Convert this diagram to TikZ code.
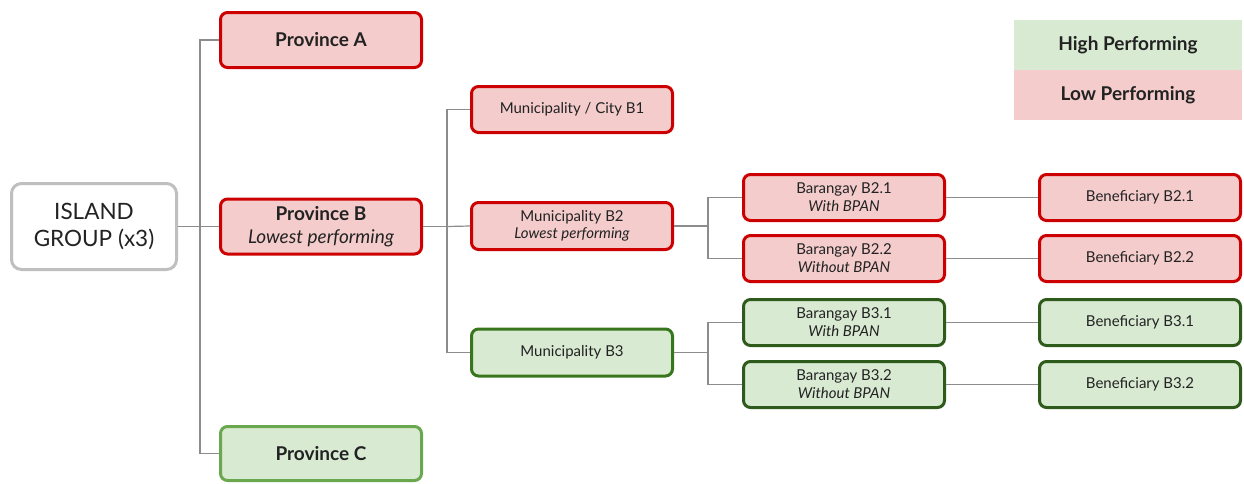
\documentclass[tikz,border=0pt]{standalone}
\usepackage{fontspec}
\setmainfont{Lato}
\usetikzlibrary{positioning}
\definecolor{LowFill}{HTML}{F4CCCC}
\definecolor{LowEdge}{HTML}{CC0000}
\definecolor{HighFill}{HTML}{D9EAD3}
\definecolor{HighEdge}{HTML}{38761D}
\definecolor{HighEdgeDark}{HTML}{2E5A1C}
\definecolor{HighEdgeLight}{HTML}{6AA84F}
\definecolor{IslandEdge}{HTML}{BFBFBF}
\definecolor{LinkGray}{HTML}{8C8C8C}
\definecolor{TextDark}{HTML}{222222}

\tikzset{
  box/.style={rounded corners=7pt,line width=3pt,minimum width=201pt,align=center,inner sep=0pt,text=TextDark},
  lowbox/.style={box,draw=LowEdge,fill=LowFill},
  highbox/.style={box,draw=HighEdgeDark,fill=HighFill},
  provfont/.style={font=\fontsize{19}{23}\selectfont\bfseries},
  smallfont/.style={font=\fontsize{15}{18}\selectfont},
  link/.style={draw=LinkGray,line width=1.2pt},
}

\begin{document}
\begin{tikzpicture}[x=1pt,y=-1pt]
  \useasboundingbox (0,0) rectangle (1244,483);

  % root
  \node[box,draw=IslandEdge,fill=white,minimum width=165pt,minimum height=86pt,
    rounded corners=10pt,font=\fontsize{22.5}{27}\selectfont] (island) at (94,226.5)
    {ISLAND\\GROUP (x3)};

  % provinces
  \node[lowbox,provfont,minimum height=55pt] (provA) at (321,40) {Province A};
  \node[lowbox,provfont,minimum height=55pt] (provB) at (321,226.5)
    {Province B\\\mdseries\itshape Lowest performing};
  \node[box,draw=HighEdgeLight,fill=HighFill,provfont,minimum height=54pt] (provC) at (321,453.5) {Province C};

  % municipalities
  \node[lowbox,smallfont,minimum height=46pt] (munB1) at (572,109.5) {Municipality / City B1};
  \node[lowbox,smallfont,minimum height=47pt,font=\fontsize{15}{17}\selectfont] (munB2) at (572,226)
    {Municipality B2\\\itshape Lowest performing};
  \node[box,draw=HighEdge,fill=HighFill,smallfont,minimum height=47pt] (munB3) at (572,352.5) {Municipality B3};

  % barangays
  \node[lowbox,smallfont,minimum height=46pt] (barB21) at (844,197.5) {Barangay B2.1\\\itshape With BPAN};
  \node[lowbox,smallfont,minimum height=46pt] (barB22) at (844,258.5) {Barangay B2.2\\\itshape Without BPAN};
  \node[highbox,smallfont,minimum height=46pt] (barB31) at (844,322.5) {Barangay B3.1\\\itshape With BPAN};
  \node[highbox,smallfont,minimum height=46pt] (barB32) at (844,384.5) {Barangay B3.2\\\itshape Without BPAN};

  % beneficiaries
  \node[lowbox,smallfont,minimum height=46pt] (benB21) at (1140,197.5) {Beneficiary B2.1};
  \node[lowbox,smallfont,minimum height=46pt] (benB22) at (1140,258.5) {Beneficiary B2.2};
  \node[highbox,smallfont,minimum height=46pt] (benB31) at (1140,322.5) {Beneficiary B3.1};
  \node[highbox,smallfont,minimum height=46pt] (benB32) at (1140,384.5) {Beneficiary B3.2};

  % legend
  \node[fill=HighFill,minimum width=228pt,minimum height=50pt,inner sep=0pt,provfont,text=TextDark] (legHigh) at (1128,45) {High Performing};
  \node[fill=LowFill,minimum width=228pt,minimum height=50pt,inner sep=0pt,provfont,text=TextDark,below=0pt of legHigh] (legLow) {Low Performing};

  % connectors
  \coordinate (tIsland) at (200,226.5);
  \coordinate (tProvB) at (447,226.5);
  \coordinate (tMunB2) at (708,226);
  \coordinate (tMunB3) at (708,352.5);
  \draw[link] (island.east) -- (tIsland);
  \draw[link] (tIsland) |- (provA.west);
  \draw[link] (tIsland) -- (provB.west);
  \draw[link] (tIsland) |- (provC.west);
  \draw[link] (provB.east) -- (tProvB);
  \draw[link] (tProvB) |- (munB1.west);
  \draw[link] (tProvB) -- (munB2.west);
  \draw[link] (tProvB) |- (munB3.west);
  \draw[link] (munB2.east) -- (tMunB2);
  \draw[link] (tMunB2) |- (barB21.west);
  \draw[link] (tMunB2) |- (barB22.west);
  \draw[link] (munB3.east) -- (tMunB3);
  \draw[link] (tMunB3) |- (barB31.west);
  \draw[link] (tMunB3) |- (barB32.west);
  \draw[link] (barB21) -- (benB21);
  \draw[link] (barB22) -- (benB22);
  \draw[link] (barB31) -- (benB31);
  \draw[link] (barB32) -- (benB32);
\end{tikzpicture}
\end{document}
